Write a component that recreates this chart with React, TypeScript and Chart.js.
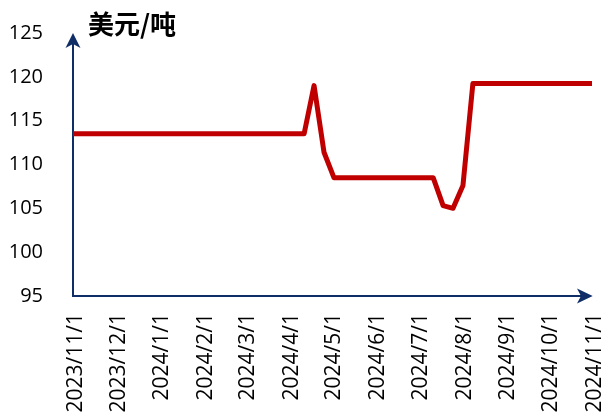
import React, { useEffect, useRef } from "react";
import { Chart, registerables } from "chart.js";

Chart.register(...registerables);

// Weekly price observations (USD/ton)
const dates = [
  "2023-11-01",
  "2024-04-12",
  "2024-04-19",
  "2024-04-26",
  "2024-05-03",
  "2024-07-12",
  "2024-07-19",
  "2024-07-26",
  "2024-08-02",
  "2024-08-09",
  "2024-11-01",
];
const prices = [113.5, 113.5, 119.0, 111.4, 108.5, 108.5, 105.3, 105.0, 107.6, 119.25, 119.25];

const tickDates = [
  "2023-11-01",
  "2023-12-01",
  "2024-01-01",
  "2024-02-01",
  "2024-03-01",
  "2024-04-01",
  "2024-05-01",
  "2024-06-01",
  "2024-07-01",
  "2024-08-01",
  "2024-09-01",
  "2024-10-01",
  "2024-11-01",
];
const tickLabels = [
  "2023/11/1",
  "2023/12/1",
  "2024/1/1",
  "2024/2/1",
  "2024/3/1",
  "2024/4/1",
  "2024/5/1",
  "2024/6/1",
  "2024/7/1",
  "2024/8/1",
  "2024/9/1",
  "2024/10/1",
  "2024/11/1",
];
const yMin = 95;
const yMax = 125;
const yStep = 5;
const unitLabel = "美元/吨";

const DAY = 86400000;
const origin = Date.UTC(2023, 10, 1);
const toDay = (s: string) => {
  const [y, m, d] = s.split("-").map(Number);
  return Math.round((Date.UTC(y, m - 1, d) - origin) / DAY);
};

const AXIS_COLOR = "#0F2D66";
const LINE_COLOR = "#C00000";
const FONT = "'Open Sans', 'Noto Sans', sans-serif";

const zeroPad = (axis: any) => {
  axis.paddingLeft = 0;
  axis.paddingRight = 0;
  axis.paddingTop = 0;
  axis.paddingBottom = 0;
};

const axesPlugin = {
  id: "arrowAxes",
  beforeDatasetsDraw(chart: any) {
    const { ctx, chartArea } = chart;
    const L = chartArea.left;
    const B = chartArea.bottom;
    const T = chartArea.top;
    const R = chartArea.right;
    ctx.save();
    ctx.strokeStyle = AXIS_COLOR;
    ctx.fillStyle = AXIS_COLOR;
    ctx.lineWidth = 2;
    ctx.beginPath();
    ctx.moveTo(L, T + 10);
    ctx.lineTo(L, B);
    ctx.lineTo(R - 10, B);
    ctx.stroke();
    // y arrow
    ctx.beginPath();
    ctx.moveTo(L, T);
    ctx.lineTo(L + 7.5, T + 15);
    ctx.lineTo(L, T + 11);
    ctx.lineTo(L - 7.5, T + 15);
    ctx.closePath();
    ctx.fill();
    // x arrow
    ctx.beginPath();
    ctx.moveTo(R + 0.7, B);
    ctx.lineTo(R - 15, B - 7.5);
    ctx.lineTo(R - 11, B);
    ctx.lineTo(R - 15, B + 7.5);
    ctx.closePath();
    ctx.fill();
    ctx.restore();
  },
  afterDraw(chart: any) {
    const { ctx } = chart;
    ctx.save();
    ctx.fillStyle = "#000";
    ctx.font = "bold 26px 'Noto Sans CJK SC', sans-serif";
    ctx.textAlign = "left";
    ctx.textBaseline = "middle";
    ctx.fillText(unitLabel, 88, 24);
    ctx.restore();
  },
};

export default function App() {
  const ref = useRef<HTMLCanvasElement>(null);
  useEffect(() => {
    if (!ref.current) return;
    const tickValues = tickDates.map(toDay);
    const chart = new Chart(ref.current, {
      type: "line",
      data: {
        datasets: [
          {
            data: dates.map((d, i) => ({ x: toDay(d), y: prices[i] })),
            borderColor: LINE_COLOR,
            borderWidth: 5,
            pointRadius: 0,
            tension: 0,
            borderJoinStyle: "round",
            borderCapStyle: "round",
          },
        ],
      },
      options: {
        responsive: false,
        animation: false,
        events: [],
        layout: { autoPadding: false, padding: { top: 33, right: 11, left: 0, bottom: 0 } },
        plugins: { legend: { display: false }, tooltip: { enabled: false } },
        scales: {
          x: {
            type: "linear",
            min: tickValues[0],
            max: tickValues[tickValues.length - 1],
            grid: { display: false, drawTicks: false },
            border: { display: false },
            afterBuildTicks: (axis: any) => {
              axis.ticks = tickValues.map((v) => ({ value: v }));
            },
            afterFit: (axis: any) => {
              axis.height = 121;
              zeroPad(axis);
            },
            ticks: {
              autoSkip: false,
              minRotation: 90,
              maxRotation: 90,
              padding: 17,
              labelOffset: 3,
              color: "#000",
              font: { family: FONT, size: 21 },
              callback: (v: any) => {
                const i = tickValues.indexOf(Number(v));
                return i >= 0 ? tickLabels[i] : "";
              },
            },
          },
          y: {
            min: yMin,
            max: yMax,
            grid: { display: false, drawTicks: false },
            border: { display: false },
            afterFit: (axis: any) => {
              axis.width = 73;
              zeroPad(axis);
            },
            ticks: {
              stepSize: yStep,
              padding: 30,
              color: "#000",
              font: { family: FONT, size: 20 },
            },
          },
        },
      },
      plugins: [axesPlugin],
    } as any);
    return () => chart.destroy();
  }, []);
  return (
    <div style={{ position: "absolute", left: 0, top: 0, width: 603, height: 417, background: "#fff" }}>
      <canvas ref={ref} width={603} height={417} style={{ width: 603, height: 417, display: "block" }} />
    </div>
  );
}
